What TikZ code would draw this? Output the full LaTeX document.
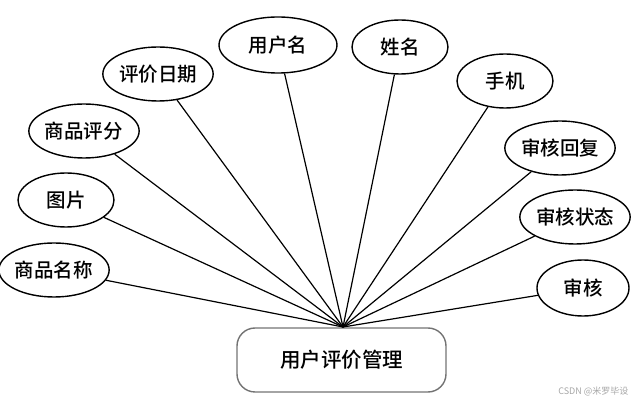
\documentclass[tikz,border=0pt]{standalone}
\usepackage{fontspec}
\setmainfont{Noto Sans CJK SC}[BoldFont={Noto Sans CJK SC Medium}]
\usetikzlibrary{shapes.geometric}
\begin{document}
\begin{tikzpicture}[x=1pt,y=-1pt,
  attr/.style={draw=black,line width=1.4pt,ellipse,inner sep=0pt,minimum width=96pt,minimum height=54pt,font=\fontsize{19.5}{19.5}\selectfont\bfseries},
  link/.style={draw=black,line width=1.2pt},
  mainbox/.style={draw=black!55,line width=1.4pt,rounded corners=18pt,minimum width=209pt,minimum height=64pt,inner sep=0pt,font=\fontsize{20.5}{20.5}\selectfont\bfseries}]
\useasboundingbox (0,0) rectangle (641,403);
\node[mainbox] (m) at (341.5,360) {用户评价管理};
\coordinate (hub) at (343,327);
\node[attr] (a1) at (54,270) {商品名称};
\node[attr] (a2) at (66,200) {图片};
\node[attr] (a3) at (84,131) {商品评分};
\node[attr] (a4) at (158,74) {评价日期};
\node[attr,minimum width=118pt,minimum height=56pt] (a5) at (278,45) {用户名};
\node[attr] (a6) at (400,47) {姓名};
\node[attr] (a7) at (505,81) {手机};
\node[attr,minimum width=94pt] (a8) at (560,148) {审核回复};
\node[attr,minimum width=94pt] (a9) at (575,217) {审核状态};
\node[attr,minimum width=92pt,minimum height=56pt] (a10) at (583,288) {审核};
\foreach \n in {a1,a2,a3,a4,a5,a6,a7,a8,a9,a10}
  \draw[link] (\n) -- (hub);
\node[text=black!35,font=\fontsize{9}{9}\selectfont,anchor=east] (wm) at (632,392) {CSDN @米罗毕设};
\end{tikzpicture}
\end{document}
